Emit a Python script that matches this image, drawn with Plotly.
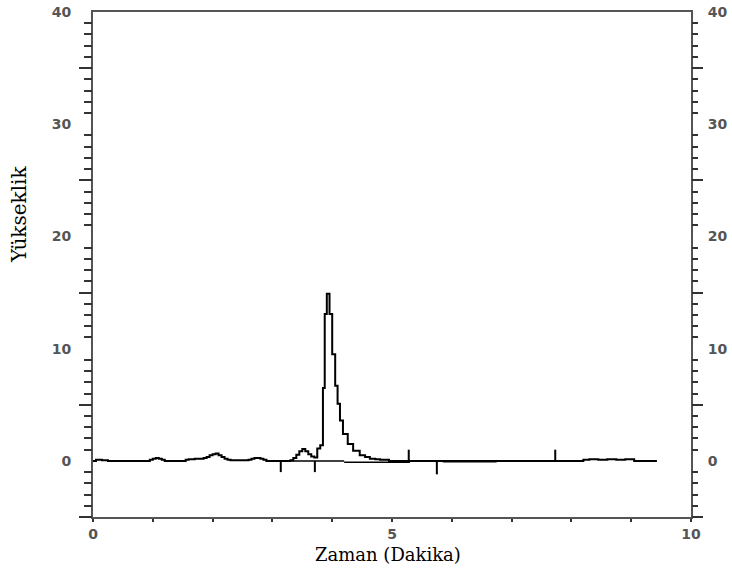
import plotly.graph_objects as go

# ---- data ----
time_min = [0.00, 0.05, 0.15, 0.25, 0.95, 1.00, 1.05, 1.10, 1.15, 1.20,
            1.55, 1.60, 1.70, 1.80, 1.85, 1.90, 1.95, 2.00, 2.05, 2.10,
            2.15, 2.20, 2.25, 2.30, 2.60, 2.65, 2.70, 2.80, 2.85, 2.90,
            3.30, 3.35, 3.40, 3.45, 3.50, 3.55, 3.60, 3.65, 3.70, 3.75,
            3.80, 3.845, 3.875, 3.91, 3.955, 4.00, 4.05, 4.09, 4.13, 4.18,
            4.26, 4.35, 4.46, 4.55, 4.63, 4.72, 4.80, 4.95, 5.30, 8.20,
            8.30, 8.45, 8.60, 8.75, 8.90, 9.05, 9.43]
signal = [0.0, 0.1, 0.05, 0.0, 0.1, 0.2, 0.25, 0.2, 0.1, 0.0,
          0.1, 0.15, 0.2, 0.2, 0.25, 0.35, 0.5, 0.6, 0.65, 0.5,
          0.35, 0.2, 0.1, 0.05, 0.1, 0.2, 0.25, 0.2, 0.1, 0.0,
          0.05, 0.25, 0.55, 0.85, 1.05, 0.85, 0.6, 0.4, 0.3, 1.1,
          1.4, 6.5, 13.1, 14.9, 13.1, 9.5, 6.7, 5.1, 3.6, 2.4,
          1.5, 0.9, 0.5, 0.35, 0.2, 0.15, 0.1, 0.0, 0.0, 0.1,
          0.15, 0.1, 0.15, 0.1, 0.15, 0.0, 0.0]

# integration baseline segments (start, end, level)
base_start = [3.30, 4.20, 5.85]
base_end = [4.20, 5.30, 6.75]
base_level = [0.0, -0.12, -0.08]

# integration event markers (time, marker height)
event_time = [3.14, 3.71, 5.28, 5.75, 7.73]
event_height = [-1.0, -1.0, 1.0, -1.2, 1.0]

x_tick_vals = list(range(0, 11))
x_tick_text = ["0", "", "", "", "", "5", "", "", "", "", "10"]
y_label_vals = [0, 10, 20, 30, 40]
y_label_text = ["0", "10", "20", "30", "40"]
y_long_ticks = [-5, 5, 15, 25, 35]
y_short_ticks = [v for v in range(-4, 40) if v % 5 != 0]

X_RANGE = [0, 10]
Y_RANGE = [-5, 40]

AXIS_COLOR = "#555555"
TICK_COLOR = "#333333"
LABEL_FONT = dict(family="DejaVu Sans", size=14, color="#555555", weight="bold")

fig = go.Figure()

# baseline segments
bx, by = [], []
for s, e, lv in zip(base_start, base_end, base_level):
    bx += [s, e, None]
    by += [lv, lv, None]
fig.add_trace(go.Scatter(x=bx, y=by, mode="lines",
                         line=dict(color="black", width=1.5),
                         hoverinfo="skip", showlegend=False))

# chromatogram
fig.add_trace(go.Scatter(x=time_min, y=signal, mode="lines",
                         line=dict(color="black", width=2, shape="hv"),
                         showlegend=False))

# event markers
ex, ey = [], []
for t, h in zip(event_time, event_height):
    ex += [t, t, None]
    ey += [0, h, None]
fig.add_trace(go.Scatter(x=ex, y=ey, mode="lines",
                         line=dict(color="black", width=2),
                         hoverinfo="skip", showlegend=False))

# dummy traces to register overlay axes
for ya in ["y2", "y3", "y4"]:
    fig.add_trace(go.Scatter(x=[0], y=[0], yaxis=ya, mode="lines",
                             line=dict(width=0), hoverinfo="skip",
                             showlegend=False))

fig.update_layout(
    width=732, height=572,
    margin=dict(l=93, r=41, t=12, b=55, autoexpand=False),
    paper_bgcolor="white", plot_bgcolor="white",
    xaxis=dict(range=X_RANGE, tickmode="array", tickvals=x_tick_vals,
               ticktext=x_tick_text, ticks="outside", ticklen=3,
               tickwidth=2, tickcolor=TICK_COLOR,
               showline=True, linecolor=AXIS_COLOR, linewidth=2,
               mirror=True, showgrid=False, zeroline=False,
               tickfont=LABEL_FONT, ticklabelstandoff=0, fixedrange=True,
               automargin=False),
    yaxis=dict(range=Y_RANGE, tickmode="array", tickvals=y_label_vals,
               ticktext=y_label_text, ticks="", side="left",
               showline=True, linecolor=AXIS_COLOR, linewidth=2,
               showgrid=False, zeroline=False, tickfont=LABEL_FONT,
               ticklabelstandoff=17, fixedrange=True, automargin=False),
    yaxis2=dict(range=Y_RANGE, tickmode="array", tickvals=y_label_vals,
                ticktext=y_label_text, ticks="", side="right",
                overlaying="y", anchor="x",
                showline=True, linecolor=AXIS_COLOR, linewidth=2,
                showgrid=False, zeroline=False, tickfont=LABEL_FONT,
                ticklabelstandoff=12, fixedrange=True, automargin=False),
    yaxis3=dict(range=Y_RANGE, tickmode="array", tickvals=y_long_ticks,
                ticks="outside", ticklen=13, tickwidth=2,
                tickcolor=TICK_COLOR, showticklabels=False,
                minor=dict(tickmode="array", tickvals=y_short_ticks,
                           ticks="outside", ticklen=8, tickwidth=2,
                           tickcolor=TICK_COLOR, showgrid=False),
                side="left", overlaying="y", anchor="x",
                showline=False, showgrid=False, zeroline=False,
                fixedrange=True, automargin=False),
    yaxis4=dict(range=Y_RANGE, tickmode="array", tickvals=y_long_ticks,
                ticks="outside", ticklen=11, tickwidth=2,
                tickcolor=TICK_COLOR, showticklabels=False,
                minor=dict(tickmode="array", tickvals=y_short_ticks,
                           ticks="outside", ticklen=6, tickwidth=2,
                           tickcolor=TICK_COLOR, showgrid=False),
                side="right", overlaying="y", anchor="x",
                showline=False, showgrid=False, zeroline=False,
                fixedrange=True, automargin=False),
    annotations=[
        dict(text="Yükseklik", xref="paper", yref="paper",
             x=-0.1237, y=0.598, xanchor="center", yanchor="middle",
             textangle=-90, showarrow=False,
             font=dict(family="DejaVu Serif", size=20, color="black")),
        dict(text="Zaman (Dakika)", xref="paper", yref="paper",
             x=0.494, y=-0.075, xanchor="center", yanchor="middle",
             showarrow=False,
             font=dict(family="DejaVu Serif", size=18, color="black")),
    ],
)

fig.write_html("out.html")
